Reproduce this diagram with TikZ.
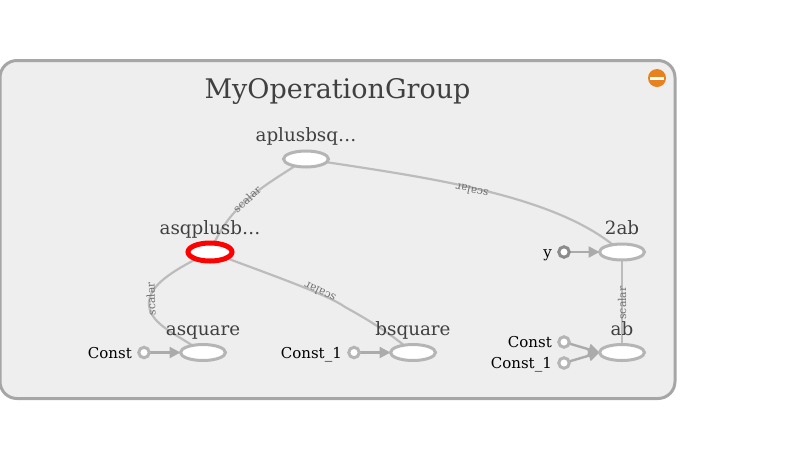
\documentclass[tikz,border=0pt]{standalone}
\usepackage{fontspec}
\setmainfont{DejaVu Serif}
\usetikzlibrary{shapes.geometric,arrows.meta,backgrounds}
\definecolor{boxfill}{HTML}{EEEEEE}
\definecolor{boxline}{HTML}{A6A6A6}
\definecolor{nodeline}{HTML}{B5B5B5}
\definecolor{edgeline}{HTML}{BCBCBC}
\definecolor{arrowline}{HTML}{ABABAB}
\definecolor{titletext}{HTML}{404040}
\definecolor{edgetext}{HTML}{707070}
\definecolor{minusorange}{HTML}{E8821E}
\tikzset{
  x=1pt,y=-1pt,
  opnode/.style={shape=ellipse,draw=nodeline,fill=white,line width=3pt,minimum width=45pt,minimum height=16pt,inner sep=0pt,outer sep=0pt},
  selnode/.style={opnode,draw=red,line width=5pt,minimum width=44pt,minimum height=18pt},
  constnode/.style={shape=circle,draw=nodeline,fill=white,line width=3pt,minimum size=10.5pt,inner sep=0pt,outer sep=0pt},
  oplabel/.style={text=titletext,font=\fontsize{18.3}{21}\selectfont,inner sep=0pt,anchor=base},
  constlabel/.style={text=black,font=\fontsize{15}{17}\selectfont,anchor=base east,inner sep=0pt},
  flow/.style={draw=edgeline,line width=2.2pt},
  feed/.style={draw=arrowline,line width=2.4pt,-{Triangle[length=11pt,width=11pt]}},
  edgelabel/.style={text=edgetext,font=\fontsize{10.8}{12}\selectfont,inner sep=0pt}
}
\begin{document}
\begin{tikzpicture}
\useasboundingbox (0,0) rectangle (795,459);
\node[text=titletext,font=\fontsize{27}{31}\selectfont,inner sep=0pt,anchor=base] (title) at (337.5,98.5) {MyOperationGroup};
\node[shape=circle,fill=minusorange,minimum size=18pt,inner sep=0pt] (collapse) at (657,78) {};
\fill[white] (650,76.5) rectangle (664,79.5);

\node[opnode] (aplus) at (306,159) {};
\node[selnode] (asq) at (210,252) {};
\node[opnode] (asquare) at (203,352.5) {};
\node[opnode] (bsquare) at (413,352.5) {};
\node[opnode] (twoab) at (622,252) {};
\node[opnode] (ab) at (622,352.5) {};

\node[constnode] (c1) at (144,352.5) {};
\node[constnode] (c2) at (354,352.5) {};
\node[constnode,draw=gray!90] (y) at (564,252) {};
\node[constnode] (c3) at (564,342) {};
\node[constnode] (c4) at (564,363) {};
\node[constlabel] (lc1) at (132,358) {Const};
\node[constlabel] (lc2) at (342,358) {Const\_1};
\node[constlabel] (ly) at (552,257) {y};
\node[constlabel] (lc3) at (552,347) {Const};
\node[constlabel] (lc4) at (552,368) {Const\_1};

\begin{scope}[on background layer]
\draw[draw=boxline,fill=boxfill,line width=3pt,rounded corners=17pt] (0,60.5) rectangle (675,398.5);
\draw[feed] (c1) -- (asquare);
\draw[feed] (c2) -- (bsquare);
\draw[feed] (y) -- (twoab);
\draw[feed] (c3) -- (ab.west);
\draw[feed] (c4) -- (ab.west);
\draw[flow] (aplus) .. controls (262,187) and (232,205) .. (asq);
\draw[flow] (aplus) .. controls (430,178) and (550,195) .. (twoab);
\draw[flow] (asq) .. controls (165,275) and (150,288) .. (149,302) .. controls (148,322) and (172,332) .. (asquare);
\draw[flow] (asq) .. controls (280,278) and (330,296) .. (345,307) .. controls (365,318) and (385,330) .. (bsquare);
\draw[flow] (twoab) -- (ab);
\end{scope}

\node[oplabel] (laplus) at (306,141.5) {aplusbsq…};
\node[oplabel] (lasq) at (210,234) {asqplusb…};
\node[oplabel] (lasquare) at (203,335) {asquare};
\node[oplabel] (lbsquare) at (413,335) {bsquare};
\node[oplabel] (ltwoab) at (622,234) {2ab};
\node[oplabel] (lab) at (622,335) {ab};

\node[edgelabel,rotate=42] (s1) at (247,199) {scalar};
\node[edgelabel,rotate=167] (s2) at (472,191) {scalar};
\node[edgelabel,rotate=92] (s3) at (151,299) {scalar};
\node[edgelabel,rotate=155] (s4) at (320,292) {scalar};
\node[edgelabel,rotate=90] (s5) at (622,303) {scalar};
\end{tikzpicture}
\end{document}
